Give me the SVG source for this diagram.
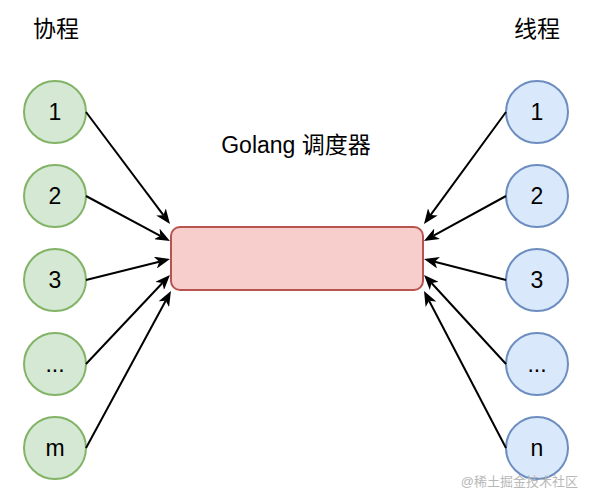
<svg xmlns="http://www.w3.org/2000/svg" width="592" height="504" viewBox="0 0 592 504">
<style>
text{font-family:"Liberation Sans","Noto Sans CJK SC",sans-serif;fill:#000}
.lbl{font-size:23px;text-anchor:middle}
.ttl{font-size:23px;text-anchor:middle}
.co{fill:#d5e8d4;stroke:#82b366;stroke-width:2}
.th{fill:#dae8fc;stroke:#6c8ebf;stroke-width:2}
.ed{stroke:#000;stroke-width:2;fill:none}
.wm{font-size:13px;fill:#b8b8b8;text-anchor:end}
</style>
<defs>
<marker id="ah" markerUnits="userSpaceOnUse" markerWidth="15" markerHeight="12" refX="4" refY="6" orient="auto">
<path d="M0,0 L15,6 L0,12 L4,6 Z" fill="#000"/>
</marker>
</defs>
<rect width="592" height="504" fill="#fff"/>
<text class="ttl" x="56" y="37">协程</text>
<text class="ttl" x="537" y="37">线程</text>
<g id="scheduler">
<rect x="171" y="227" width="252" height="63" rx="9" fill="#f8cecc" stroke="#b85450" stroke-width="2"/>
<text class="lbl" x="296" y="153" font-size="23">Golang 调度器</text>
</g>
<g id="g1"><circle class="co" cx="55" cy="112" r="31"/><text class="lbl" x="55" y="120">1</text></g>
<g id="g2"><circle class="co" cx="55" cy="196" r="31"/><text class="lbl" x="55" y="204">2</text></g>
<g id="g3"><circle class="co" cx="55" cy="280" r="31"/><text class="lbl" x="55" y="288">3</text></g>
<g id="g4"><circle class="co" cx="55" cy="364" r="31"/><text class="lbl" x="55" y="372">...</text></g>
<g id="gm"><circle class="co" cx="55" cy="448" r="31"/><text class="lbl" x="55" y="456">m</text></g>
<g id="t1"><circle class="th" cx="537" cy="112" r="31"/><text class="lbl" x="537" y="120">1</text></g>
<g id="t2"><circle class="th" cx="537" cy="196" r="31"/><text class="lbl" x="537" y="204">2</text></g>
<g id="t3"><circle class="th" cx="537" cy="280" r="31"/><text class="lbl" x="537" y="288">3</text></g>
<g id="t4"><circle class="th" cx="537" cy="364" r="31"/><text class="lbl" x="537" y="372">...</text></g>
<g id="tn"><circle class="th" cx="537" cy="448" r="31"/><text class="lbl" x="537" y="456">n</text></g>
<g id="connectors" class="ed" marker-end="url(#ah)">
<line x1="86" y1="112" x2="163.4" y2="215.2"/>
<line x1="86" y1="196" x2="160.3" y2="235.8"/>
<line x1="86" y1="280" x2="159.3" y2="261.7"/>
<line x1="86" y1="364" x2="162.4" y2="283"/>
<line x1="86" y1="448" x2="165.7" y2="300.7"/>
<line x1="506" y1="112" x2="430.5" y2="215.1"/>
<line x1="506" y1="196" x2="433.6" y2="235.7"/>
<line x1="506" y1="280" x2="434.7" y2="261.7"/>
<line x1="506" y1="364" x2="431.5" y2="283"/>
<line x1="506" y1="448" x2="429.1" y2="300.7"/>
</g>
<text class="wm" x="578" y="486">@稀土掘金技术社区</text>
</svg>
